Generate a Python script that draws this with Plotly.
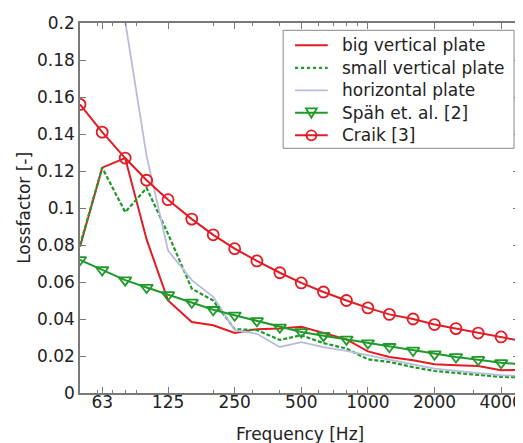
import plotly.graph_objects as go
import numpy as np

freq = [50, 63, 80, 100, 125, 160, 200, 250, 315, 400, 500, 630, 800, 1000,
        1250, 1600, 2000, 2500, 3150, 4000, 5000]

big_vertical = [0.079, 0.1218, 0.127, 0.083, 0.050, 0.0384, 0.0366, 0.0324, 0.0345,
                0.0348, 0.0358, 0.0325, 0.0290, 0.0225, 0.0195, 0.0177, 0.0155,
                0.0150, 0.0146, 0.0123, 0.0125]
small_vertical = [0.080, 0.1218, 0.0978, 0.1108, 0.086, 0.0564, 0.0500, 0.0345, 0.0340,
                  0.0287, 0.0312, 0.0270, 0.0240, 0.0182, 0.0168, 0.0140, 0.0119,
                  0.0108, 0.0100, 0.0087, 0.0085]
horizontal = [0.45, 0.32, 0.201, 0.128, 0.077, 0.061, 0.052, 0.034, 0.032,
              0.0249, 0.0275, 0.0248, 0.0228, 0.0202, 0.0180, 0.0155, 0.0132,
              0.0120, 0.0110, 0.0096, 0.0092]
spaeh = [0.072, 0.0665, 0.061, 0.057, 0.053, 0.049, 0.045, 0.042, 0.039, 0.0355,
         0.033, 0.031, 0.029, 0.027, 0.025, 0.023, 0.021, 0.0195, 0.018, 0.0163, 0.0155]
craik = [0.156, 0.141, 0.127, 0.115, 0.1045, 0.094, 0.0855, 0.078, 0.0714, 0.065,
         0.0595, 0.0546, 0.050, 0.046, 0.0425, 0.040, 0.037, 0.0348, 0.0324, 0.0303, 0.028]

series_names = ["big vertical plate", "small vertical plate", "horizontal plate",
                "Späh et. al. [2]", "Craik [3]"]

xtick_vals = [63, 125, 250, 500, 1000, 2000, 4000]
xtick_text = ["63", "125", "250", "500", "1000", "2000", "4000"]
ytick_vals = [0, 0.02, 0.04, 0.06, 0.08, 0.1, 0.12, 0.14, 0.16, 0.18, 0.2]
ytick_text = ["0", "0.02", "0.04", "0.06", "0.08", "0.1", "0.12", "0.14", "0.16", "0.18", "0.2"]

RED = "#e31b23"
GREEN = "#1f9a2a"
LAV = "#b9bddd"
AX = "#7a7a7a"
FONT = "DejaVu Sans, sans-serif"
FS = 17

# The page body has an 8px default margin, so the figure is drawn 8px smaller
# and every page position below is shifted by OFF.
OFF = 8
W, H = 523 - OFF, 443 - OFF
PL, PR, PT, PB = 80 - OFF, 523 - OFF, 22.7 - OFF, 392.7 - OFF


def px(xp):
    # xp given in page pixels
    return (xp - OFF - PL) / (PR - PL)


def py(yp):
    return (PB - (yp - OFF)) / (PB - PT)


styles = [
    dict(color=RED, width=2, dash="solid", symbol=None),
    dict(color=GREEN, width=2.2, dash="4px,2px", symbol=None),
    dict(color=LAV, width=1.8, dash="solid", symbol=None),
    dict(color=GREEN, width=2, dash="solid", symbol="triangle-down-open"),
    dict(color=RED, width=2, dash="solid", symbol="circle-open"),
]
data = [big_vertical, small_vertical, horizontal, spaeh, craik]

fig = go.Figure()
for name, vals, st in zip(series_names, data, styles):
    kw = dict(x=freq, y=vals, name=name, showlegend=False,
              line=dict(color=st["color"], width=st["width"], dash=st["dash"]))
    if st["symbol"]:
        kw["mode"] = "lines+markers"
        kw["marker"] = dict(symbol=st["symbol"], size=11, color=st["color"],
                            line=dict(width=1.8, color=st["color"]))
    else:
        kw["mode"] = "lines"
    fig.add_trace(go.Scatter(**kw))

# legend (drawn in paper coordinates, positions given in page pixels)
shapes = []
annotations = []
LX0, LX1, LY0, LY1 = 285, 518, 30, 148
shapes.append(dict(type="rect", xref="paper", yref="paper",
                   x0=px(LX0), x1=px(LX1), y0=py(LY1), y1=py(LY0),
                   line=dict(color="#888", width=1), fillcolor="white", layer="above"))
row_y = [45, 67.5, 90, 112.5, 135]
SX0, SX1 = 297, 330
for name, st, ry in zip(series_names, styles, row_y):
    shapes.append(dict(type="line", xref="paper", yref="paper",
                       x0=px(SX0), x1=px(SX1), y0=py(ry), y1=py(ry), layer="above",
                       line=dict(color=st["color"], width=st["width"],
                                 dash="dot" if st["dash"] != "solid" else "solid")))
    cx = (SX0 + SX1) / 2
    if st["symbol"] == "circle-open":
        r = 5
        shapes.append(dict(type="circle", xref="paper", yref="paper", layer="above",
                           x0=px(cx - r), x1=px(cx + r), y0=py(ry + r), y1=py(ry - r),
                           line=dict(color=st["color"], width=1.8)))
    elif st["symbol"] == "triangle-down-open":
        pts = [(cx - 5.5, ry - 4.5), (cx + 5.5, ry - 4.5), (cx, ry + 5)]
        path = "M {:.5f},{:.5f} L {:.5f},{:.5f} L {:.5f},{:.5f} Z".format(
            px(pts[0][0]), py(pts[0][1]), px(pts[1][0]), py(pts[1][1]),
            px(pts[2][0]), py(pts[2][1]))
        shapes.append(dict(type="path", xref="paper", yref="paper", layer="above",
                           path=path, line=dict(color=st["color"], width=1.8)))
    annotations.append(dict(text=name, xref="paper", yref="paper",
                            x=px(342), y=py(ry), xanchor="left", yanchor="middle",
                            showarrow=False, font=dict(size=FS, color="#222")))

annotations.append(dict(text="Frequency [Hz]", xref="paper", yref="paper",
                        x=px(302), y=py(434), xanchor="center", yanchor="middle",
                        showarrow=False, font=dict(size=FS)))
annotations.append(dict(text="Lossfactor [-]", xref="paper", yref="paper",
                        x=px(24), y=py(208), xanchor="center", yanchor="middle",
                        textangle=-90, showarrow=False, font=dict(size=FS)))

minor_vals = [v * d for d in (10, 100, 1000) for v in range(2, 10)]

fig.update_layout(
    width=W, height=H,
    margin=dict(l=PL, r=W - PR, t=PT, b=H - PB),
    paper_bgcolor="white", plot_bgcolor="white",
    font=dict(family=FONT, size=FS, color="#222"),
    showlegend=False,
    xaxis=dict(type="log", range=[np.log10(50), np.log10(4818)],
               tickvals=xtick_vals, ticktext=xtick_text,
               ticks="inside", ticklen=6, tickcolor=AX,
               showline=True, linecolor=AX, linewidth=1.5, mirror="ticks",
               showgrid=False, zeroline=False, ticklabeloverflow="allow",
               ticklabelstandoff=-7,
               minor=dict(tickvals=minor_vals, ticks="inside", ticklen=3, tickcolor=AX),
               tickfont=dict(size=FS)),
    yaxis=dict(range=[0, 0.2], tickvals=ytick_vals, ticktext=ytick_text,
               ticks="inside", ticklen=6, tickcolor=AX,
               showline=True, linecolor=AX, linewidth=1.5, mirror="ticks",
               showgrid=False, zeroline=False,
               tickfont=dict(size=FS)),
    shapes=shapes,
    annotations=annotations,
)

fig.write_html("out.html")
